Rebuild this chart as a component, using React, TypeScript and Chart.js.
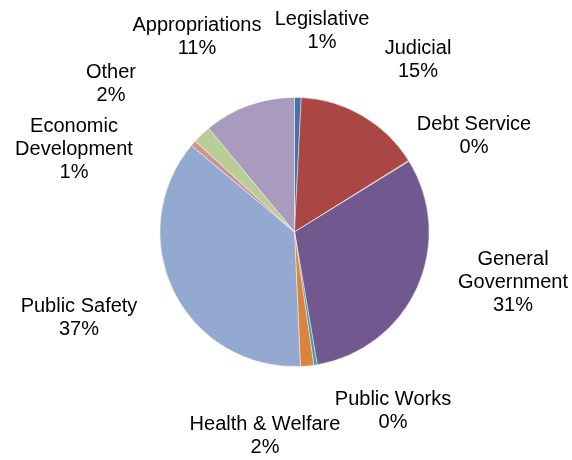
import React, { useEffect, useRef } from "react";
import { Chart, registerables } from "chart.js";

Chart.register(...registerables);

const categories: string[] = [
  "Legislative",
  "Judicial",
  "Debt Service",
  "General\nGovernment",
  "Public Works",
  "Health & Welfare",
  "Public Safety",
  "Economic\nDevelopment",
  "Other",
  "Appropriations",
];

const values: number[] = [0.8, 15.3, 0.1, 31.1, 0.4, 1.6, 36.8, 0.7, 2.2, 11.0];

const colors: string[] = [
  "#4572A7",
  "#AA4643",
  "#89A54E",
  "#71588F",
  "#4198AF",
  "#DB843D",
  "#93A9CF",
  "#D19392",
  "#B9CD96",
  "#A99BBD",
];

// label anchor positions (center of first text line)
const labelX: number[] = [322, 418, 474, 513, 393, 265, 79, 74, 111, 197];
const labelY: number[] = [19, 48, 124, 259, 399, 424, 306, 126, 72, 25];
const LINE_H = 23;

export default function App() {
  const ref = useRef<HTMLCanvasElement | null>(null);

  useEffect(() => {
    if (!ref.current) return;
    const total = values.reduce((a, b) => a + b, 0);
    const labelPlugin = {
      id: "outsideLabels",
      afterDraw(chart: any) {
        const ctx = chart.ctx;
        ctx.save();
        ctx.fillStyle = "#000000";
        ctx.font = '20px "Liberation Sans", Arial, sans-serif';
        ctx.textAlign = "center";
        ctx.textBaseline = "middle";
        categories.forEach((c, i) => {
          const pct = Math.round((values[i] / total) * 100) + "%";
          const lines = [...c.split("\n"), pct];
          lines.forEach((ln, k) => {
            ctx.fillText(ln, labelX[i], labelY[i] + k * LINE_H);
          });
        });
        ctx.restore();
      },
    };
    const chart = new Chart(ref.current, {
      type: "pie",
      data: {
        labels: categories,
        datasets: [
          {
            data: values,
            backgroundColor: colors,
            borderColor: "rgba(255,255,255,0.55)",
            borderWidth: 0.8,
          },
        ],
      },
      options: {
        animation: false,
        responsive: false,
        maintainAspectRatio: false,
        layout: { padding: { left: 159, right: 142, top: 97, bottom: 93 } },
        plugins: {
          legend: { display: false },
          tooltip: { enabled: false },
        },
      },
      plugins: [labelPlugin],
    });
    return () => chart.destroy();
  }, []);

  return (
    <div style={{ position: "absolute", left: 0, top: 0, width: 572, height: 460, background: "#fff" }}>
      <canvas ref={ref} width={572} height={460} style={{ display: "block", width: 572, height: 460 }} />
    </div>
  );
}
